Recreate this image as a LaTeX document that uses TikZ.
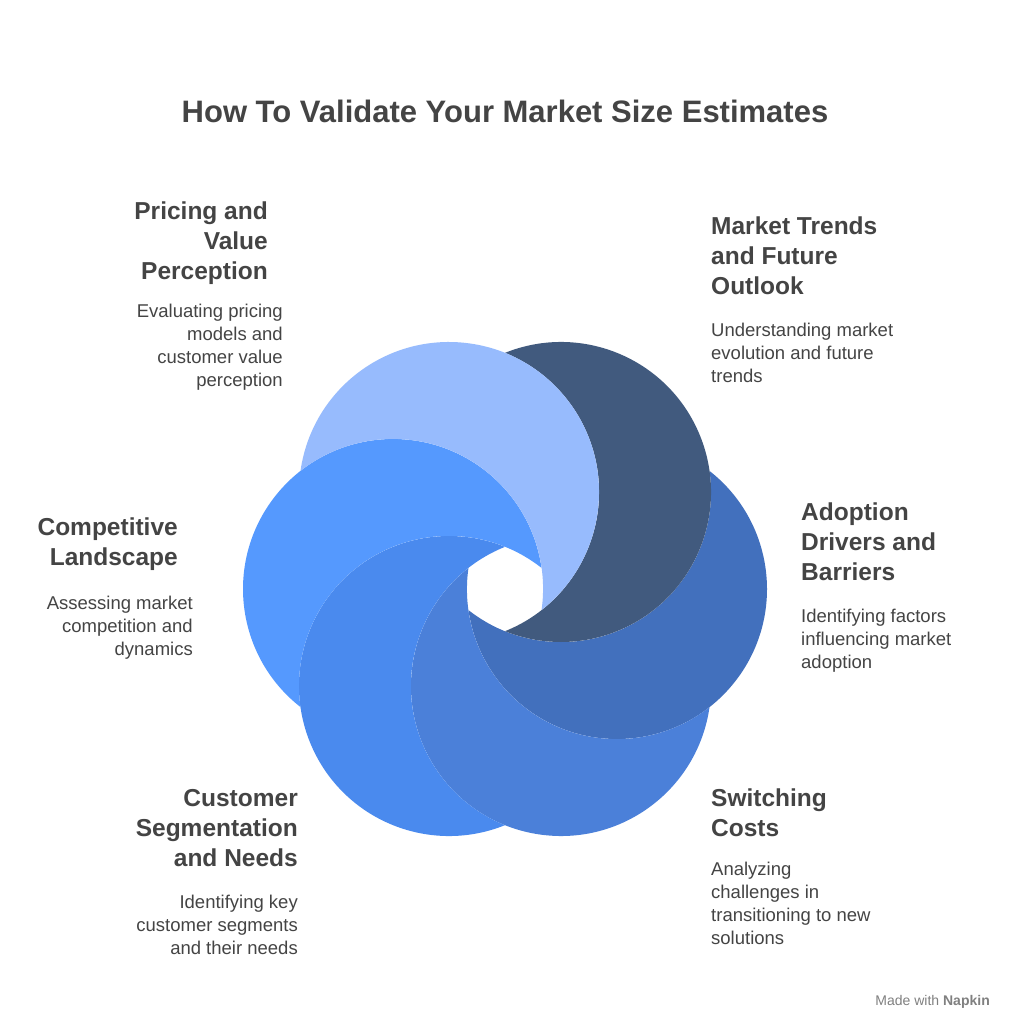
\documentclass[tikz,border=0pt]{standalone}
\usepackage{fontspec}
\setmainfont{Liberation Sans}
\definecolor{cPr}{HTML}{97BBFD}
\definecolor{cDk}{HTML}{415A7E}
\definecolor{cAd}{HTML}{4270BD}
\definecolor{cSw}{HTML}{4B80D9}
\definecolor{cCu}{HTML}{4A8AEE}
\definecolor{cCo}{HTML}{5599FE}
\definecolor{txt}{HTML}{444444}
\newcommand{\crescent}[3]{\fill[#3] (#1) ++({#2+68.1}:150)
  arc[start angle={#2+68.1}, end angle={#2+291.9}, radius=150]
  arc[start angle={#2+248.1}, end angle={#2+111.9}, radius=150] -- cycle;}
\begin{document}
\begin{tikzpicture}[x=1pt,y=-1pt,
  head/.style={inner sep=0,font=\fontsize{24.5}{30}\selectfont\bfseries,text=txt},
  body/.style={inner sep=0,font=\fontsize{18.5}{23}\selectfont,text=txt}]
\useasboundingbox[fill=white] (0,0) rectangle (1009,1024);
\coordinate (pPr) at (449,492);
\coordinate (pDk) at (561,492);
\coordinate (pAd) at (617,589);
\coordinate (pSw) at (561,686);
\coordinate (pCu) at (449,686);
\coordinate (pCo) at (393,589);
\crescent{pAd}{240}{cAd}
\crescent{pSw}{300}{cSw}
\crescent{pCu}{0}{cCu}
\crescent{pCo}{60}{cCo}
\crescent{pDk}{180}{cDk}
\crescent{pPr}{120}{cPr}
\node[anchor=base,inner sep=0,font=\fontsize{31}{36}\selectfont\bfseries,text=txt] (title) at (505,123) {How To Validate Your Market Size Estimates};
\node[head,anchor=base east,align=right] (hPr) at (268,279) {Pricing and\\Value\\Perception};
\node[body,anchor=base east,align=right] (bPr) at (283,386) {Evaluating pricing\\models and\\customer value\\perception};
\node[head,anchor=base west,align=left] (hDk) at (711,294) {Market Trends\\and Future\\Outlook};
\node[body,anchor=base west,align=left] (bDk) at (711,382) {Understanding market\\evolution and future\\trends};
\node[head,anchor=base east,align=right] (hCo) at (178,565) {Competitive\\Landscape};
\node[body,anchor=base east,align=right] (bCo) at (193,655) {Assessing market\\competition and\\dynamics};
\node[head,anchor=base west,align=left] (hAd) at (801,580) {Adoption\\Drivers and\\Barriers};
\node[body,anchor=base west,align=left] (bAd) at (801,668) {Identifying factors\\influencing market\\adoption};
\node[head,anchor=base east,align=right] (hCu) at (298,866) {Customer\\Segmentation\\and Needs};
\node[body,anchor=base east,align=right] (bCu) at (298,954) {Identifying key\\customer segments\\and their needs};
\node[head,anchor=base west,align=left] (hSw) at (711,836) {Switching\\Costs};
\node[body,anchor=base west,align=left] (bSw) at (711,944) {Analyzing\\challenges in\\transitioning to new\\solutions};
\node[anchor=base east,inner sep=0,font=\fontsize{14}{16}\selectfont,text=gray] (mark) at (990,1005) {Made with \textbf{Napkin}};
\end{tikzpicture}
\end{document}
